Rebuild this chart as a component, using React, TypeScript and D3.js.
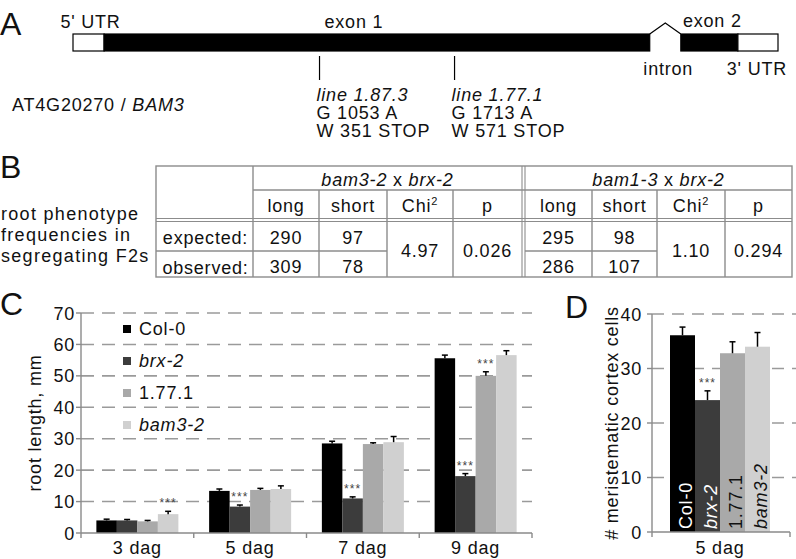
import React from "react";
import * as d3 from "d3";

// ---------- Panel A data ----------
const GENE_SEGMENT_NAMES = ["5' UTR", "exon 1", "intron", "exon 2", "3' UTR"];
const GENE_SEGMENT_KINDS = ["utr", "exon", "intron", "exon", "utr"];
const GENE_SEGMENT_STARTS = [-152, 0, 2667, 2819, 3098];
const GENE_SEGMENT_ENDS = [0, 2667, 2819, 3098, 3294];
const MUTATION_LINES = ["line 1.87.3", "line 1.77.1"];
const MUTATION_POSITIONS = [1053, 1713];
const MUTATION_NT = ["G 1053 A", "G 1713 A"];
const MUTATION_AA = ["W 351 STOP", "W 571 STOP"];
const GENE_ID = "AT4G20270";
const GENE_NAME = "BAM3";

// ---------- Panel B data ----------
const CROSS_MUTANTS = ["bam3-2", "bam1-3"];
const CROSS_PARTNER = "brx-2";
const TABLE_COLUMNS = ["long", "short", "Chi", "p"];
const TABLE_ROWS = ["expected:", "observed:"];
const ROW_TITLE = ["root phenotype", "frequencies in", "segregating F2s"];
const EXPECTED_LONG = [290, 295];
const EXPECTED_SHORT = [97, 98];
const OBSERVED_LONG = [309, 286];
const OBSERVED_SHORT = [78, 107];
const CHI2_VALUES = ["4.97", "1.10"];
const P_VALUES = ["0.026", "0.294"];

// ---------- Panel C data ----------
const DAYS = ["3 dag", "5 dag", "7 dag", "9 dag"];
const GENOTYPES = ["Col-0", "brx-2", "1.77.1", "bam3-2"];
const GENOTYPE_ITALIC = [false, true, false, true];
const GENOTYPE_COLORS = ["#000000", "#3c3c3c", "#a9a9a9", "#d0d0d0"];
const ROOT_COL0 = [4.0, 13.4, 28.5, 55.6];
const ROOT_BRX2 = [4.0, 8.4, 11.0, 18.1];
const ROOT_1771 = [3.7, 13.7, 28.3, 50.0];
const ROOT_BAM32 = [6.0, 14.0, 28.9, 56.6];
const ROOT_COL0_ERR = [0.4, 0.6, 0.7, 1.0];
const ROOT_BRX2_ERR = [0.3, 0.5, 0.5, 0.8];
const ROOT_1771_ERR = [0.3, 0.5, 0.4, 1.3];
const ROOT_BAM32_ERR = [0.9, 1.0, 1.8, 1.4];
const ROOT_SIG_DAY = ["3 dag", "5 dag", "7 dag", "9 dag", "9 dag"];
const ROOT_SIG_GENO = ["bam3-2", "brx-2", "brx-2", "brx-2", "1.77.1"];
const ROOT_TICKS = [0, 10, 20, 30, 40, 50, 60, 70];

// ---------- Panel D data ----------
const CORTEX_DAY = "5 dag";
const CORTEX_VALUES = [36.1, 24.2, 32.8, 34.0];
const CORTEX_ERR = [1.5, 1.7, 2.1, 2.6];
const CORTEX_SIG = ["brx-2"];
const CORTEX_TICKS = [0, 10, 20, 30, 40];

const FONT = "'Liberation Sans', Arial, Helvetica, sans-serif";
const LS = 0.8;
const GRID = "#9a9a9a";
const AXIS = "#8a8a8a";
const TLINE = "#8c8c8c";

const Txt = (p: any) => (
  <text fontFamily={FONT} fontSize={18} letterSpacing={LS} fill="#111" {...p} />
);

function PanelA() {
  const x = d3.scaleLinear().domain([-152, 3294]).range([73, 778]);
  const top = 34;
  const h = 17;
  const segs = GENE_SEGMENT_NAMES.map((n, i) => ({
    name: n,
    kind: GENE_SEGMENT_KINDS[i],
    s: GENE_SEGMENT_STARTS[i],
    e: GENE_SEGMENT_ENDS[i],
  }));
  return (
    <g>
      <Txt x={0} y={35} fontSize={32} letterSpacing={0}>A</Txt>
      {segs.map((sg, i) => {
        const x0 = x(sg.s);
        const x1 = x(sg.e);
        if (sg.kind === "intron") {
          const mid = (x0 + x1) / 2;
          return (
            <g key={i}>
              <polyline points={`${x0},${top} ${mid},${top - 11} ${x1},${top}`} fill="none" stroke="#000" strokeWidth={1.2} />
              <Txt x={mid + 3} y={75} textAnchor="middle">{sg.name}</Txt>
            </g>
          );
        }
        const isUtr = sg.kind === "utr";
        const isFirst = i === 0;
        const labelX = sg.name === "exon 1" ? (x0 + x1) / 2 - 23 : (x0 + x1) / 2 + (isFirst ? 2 : isUtr ? -1 : 3);
        const labelY = isUtr && !isFirst ? 75 : sg.name === "exon 2" ? 27 : 28;
        return (
          <g key={i}>
            <rect x={x0} y={top} width={x1 - x0} height={h}
              fill={isUtr ? "#fff" : "#000"} stroke="#000" strokeWidth={1.2} />
            <Txt x={labelX} y={labelY} textAnchor="middle">{sg.name}</Txt>
          </g>
        );
      })}
      {MUTATION_POSITIONS.map((pos, i) => {
        const mx = x(pos);
        return (
          <g key={i}>
            <line x1={mx} x2={mx} y1={56} y2={80} stroke="#000" strokeWidth={1.2} />
            <Txt x={mx - 3} y={101} fontStyle="italic">{MUTATION_LINES[i]}</Txt>
            <Txt x={mx - 3} y={119}>{MUTATION_NT[i]}</Txt>
            <Txt x={mx - 3} y={137}>{MUTATION_AA[i]}</Txt>
          </g>
        );
      })}
      <Txt x={12} y={111}>
        {GENE_ID} / <tspan fontStyle="italic">{GENE_NAME}</tspan>
      </Txt>
    </g>
  );
}

function PanelB() {
  const left = 156, right = 792, c1 = 253;
  const g1 = [253, 319, 387, 453, 522];
  const g2 = [525, 592, 657, 725, 792];
  const rows = [166, 190, 220, 251, 277];
  const groups = [g1, g2];
  const ln = (x1: number, y1: number, x2: number, y2: number, k: string, w = 1.4) => (
    <line key={k} x1={x1} y1={y1} x2={x2} y2={y2} stroke={TLINE} strokeWidth={w} />
  );
  return (
    <g>
      <Txt x={0} y={178} fontSize={32} letterSpacing={0}>B</Txt>
      {ROW_TITLE.map((t, i) => (
        <Txt key={i} x={1} y={220 + i * 21} letterSpacing={1.3}>{t}</Txt>
      ))}
      <rect x={left} y={rows[0]} width={right - left} height={rows[4] - rows[0]} fill="none" stroke={TLINE} strokeWidth={1.4} />
      {ln(c1, rows[0], c1, rows[4], "c1")}
      {ln(c1, rows[1], right, rows[1], "r1")}
      {ln(left, rows[2] - 1.5, right, rows[2] - 1.5, "r2a", 1.1)}
      {ln(left, rows[2] + 1.5, right, rows[2] + 1.5, "r2b", 1.1)}
      {ln(left, rows[3], g1[2], rows[3], "r3a")}
      {ln(g2[0], rows[3], g2[2], rows[3], "r3b")}
      {ln(g1[4], rows[0], g1[4], rows[4], "dv1", 1.1)}
      {ln(g2[0], rows[0], g2[0], rows[4], "dv2", 1.1)}
      {[g1, g2].map((g, gi) => [1, 2, 3].map((k) => ln(g[k], rows[1], g[k], rows[4], `v${gi}${k}`)))}
      {TABLE_ROWS.map((r, i) => (
        <Txt key={r} x={(left + c1) / 2 + 1} y={i === 0 ? 244 : 274} textAnchor="middle">{r}</Txt>
      ))}
      {groups.map((g, gi) => {
        const cx = (a: number) => (g[a] + g[a + 1]) / 2;
        return (
          <g key={gi}>
            <Txt x={(g[0] + g[4]) / 2} y={186} textAnchor="middle">
              <tspan fontStyle="italic">{CROSS_MUTANTS[gi]}</tspan> x <tspan fontStyle="italic">{CROSS_PARTNER}</tspan>
            </Txt>
            {TABLE_COLUMNS.map((c, ci) => (
              <Txt key={c} x={cx(ci)} y={212} textAnchor="middle">
                {c}
                {c === "Chi" ? <tspan fontSize={11} dy={-7}>2</tspan> : null}
              </Txt>
            ))}
            <Txt x={cx(0)} y={244} textAnchor="middle">{EXPECTED_LONG[gi]}</Txt>
            <Txt x={cx(1)} y={244} textAnchor="middle">{EXPECTED_SHORT[gi]}</Txt>
            <Txt x={cx(0)} y={273} textAnchor="middle">{OBSERVED_LONG[gi]}</Txt>
            <Txt x={cx(1)} y={273} textAnchor="middle">{OBSERVED_SHORT[gi]}</Txt>
            <Txt x={cx(2)} y={257} textAnchor="middle">{CHI2_VALUES[gi]}</Txt>
            <Txt x={cx(3)} y={257} textAnchor="middle">{P_VALUES[gi]}</Txt>
          </g>
        );
      })}
    </g>
  );
}

function ErrorBar({ x, yTop, yErr }: any) {
  return (
    <g stroke="#000" strokeWidth={1.5}>
      <line x1={x} x2={x} y1={yTop} y2={yErr} />
      <line x1={x - 3} x2={x + 3} y1={yErr} y2={yErr} />
    </g>
  );
}

function Stars({ x, y }: any) {
  return (
    <text x={x} y={y} textAnchor="middle" fontFamily={FONT} fontSize={12} letterSpacing={1} fill="#444">***</text>
  );
}

function PanelC() {
  const left = 81, right = 532, y0 = 533, yTop = 313;
  const y = d3.scaleLinear().domain([0, 70]).range([y0, yTop]);
  const xb = d3.scaleBand().domain(DAYS).range([left, right]);
  const bw = xb.bandwidth();
  const xi = d3.scaleBand().domain(GENOTYPES).range([(bw - 82) / 2, (bw + 82) / 2]);
  const series = [ROOT_COL0, ROOT_BRX2, ROOT_1771, ROOT_BAM32];
  const errs = [ROOT_COL0_ERR, ROOT_BRX2_ERR, ROOT_1771_ERR, ROOT_BAM32_ERR];
  return (
    <g>
      <Txt x={0} y={315} fontSize={32} letterSpacing={0}>C</Txt>
      {ROOT_TICKS.filter((t) => t > 0).map((t) => (
        <line key={t} x1={left} x2={right} y1={y(t)} y2={y(t)} stroke={GRID} strokeWidth={1.6} strokeDasharray="13,8" />
      ))}
      {ROOT_TICKS.map((t) => (
        <g key={t}>
          <line x1={left - 5} x2={left} y1={y(t)} y2={y(t)} stroke={AXIS} strokeWidth={1.4} />
          <Txt x={75} y={y(t) + 6.5} textAnchor="end">{t}</Txt>
        </g>
      ))}
      <line x1={left} x2={left} y1={yTop} y2={y0} stroke={AXIS} strokeWidth={1.4} />
      {DAYS.map((d, di) => (
        <g key={d}>
          {GENOTYPES.map((g, gi) => {
            const bx = (xb(d) as number) + (xi(g) as number);
            const v = series[gi][di];
            const e = errs[gi][di];
            return (
              <g key={g}>
                <rect x={bx} y={y(v)} width={xi.bandwidth()} height={y0 - y(v)} fill={GENOTYPE_COLORS[gi]} />
                <ErrorBar x={bx + xi.bandwidth() / 2} yTop={y(v)} yErr={y(v + e)} />
              </g>
            );
          })}
          <Txt x={(xb(d) as number) + bw / 2} y={554} textAnchor="middle">{d}</Txt>
        </g>
      ))}
      {ROOT_SIG_DAY.map((d, i) => {
        const gi = GENOTYPES.indexOf(ROOT_SIG_GENO[i]);
        const bx = (xb(d) as number) + (xi(ROOT_SIG_GENO[i]) as number) + xi.bandwidth() / 2;
        const top = y(series[gi][DAYS.indexOf(d)] + errs[gi][DAYS.indexOf(d)]);
        return <Stars key={i} x={bx} y={top - 4} />;
      })}
      <line x1={left} x2={right} y1={y0} y2={y0} stroke={AXIS} strokeWidth={1.4} />
      {[left, ...DAYS.map((d) => (xb(d) as number) + bw)].map((tx, i) => (
        <line key={i} x1={tx} x2={tx} y1={y0} y2={y0 + 5} stroke={AXIS} strokeWidth={1.4} />
      ))}
      {GENOTYPES.map((g, i) => (
        <g key={g}>
          <rect x={123} y={325 + i * 32} width={8} height={8} fill={GENOTYPE_COLORS[i]} />
          <Txt x={139} y={335 + i * 32} fontStyle={GENOTYPE_ITALIC[i] ? "italic" : "normal"}>{g}</Txt>
        </g>
      ))}
      <Txt transform={`translate(41,${(y0 + yTop) / 2}) rotate(-90)`} textAnchor="middle">root length, mm</Txt>
    </g>
  );
}

function PanelD() {
  const left = 652, right = 790, y0 = 532, yTop = 314;
  const y = d3.scaleLinear().domain([0, 40]).range([y0, yTop]);
  const xi = d3.scaleBand().domain(GENOTYPES).range([670, 770]);
  return (
    <g>
      <Txt x={565} y={318} fontSize={32} letterSpacing={0}>D</Txt>
      {CORTEX_TICKS.filter((t) => t > 0).map((t) => (
        <line key={t} x1={left} x2={796} y1={y(t)} y2={y(t)} stroke={GRID} strokeWidth={1.6} strokeDasharray="12,8" />
      ))}
      {CORTEX_TICKS.map((t) => (
        <g key={t}>
          <line x1={left - 5} x2={left} y1={y(t)} y2={y(t)} stroke={AXIS} strokeWidth={1.4} />
          <Txt x={642} y={y(t) + 6.5} textAnchor="end">{t}</Txt>
        </g>
      ))}
      <line x1={left} x2={left} y1={yTop} y2={y0 + 5} stroke={AXIS} strokeWidth={1.4} />
      {GENOTYPES.map((g, gi) => {
        const bx = xi(g) as number;
        const v = CORTEX_VALUES[gi];
        const bwid = xi.bandwidth();
        return (
          <g key={g}>
            <rect x={bx} y={y(v)} width={bwid} height={y0 - y(v)} fill={GENOTYPE_COLORS[gi]} />
            <ErrorBar x={bx + bwid / 2} yTop={y(v)} yErr={y(v + CORTEX_ERR[gi])} />
            <Txt transform={`translate(${bx + bwid - 3},529) rotate(-90)`}
              fill={gi < 2 ? "#fff" : "#111"} fontStyle={GENOTYPE_ITALIC[gi] ? "italic" : "normal"}>{g}</Txt>
          </g>
        );
      })}
      {CORTEX_SIG.map((g) => {
        const gi = GENOTYPES.indexOf(g);
        const bx = (xi(g) as number) + xi.bandwidth() / 2;
        return <Stars key={g} x={bx} y={y(CORTEX_VALUES[gi] + CORTEX_ERR[gi]) - 4} />;
      })}
      <line x1={left} x2={right} y1={y0} y2={y0} stroke={AXIS} strokeWidth={1.4} />
      <line x1={right} x2={right} y1={y0} y2={y0 + 5} stroke={AXIS} strokeWidth={1.4} />
      <Txt x={720} y={554} textAnchor="middle">{CORTEX_DAY}</Txt>
      <Txt transform={`translate(618,${(y0 + yTop) / 2}) rotate(-90)`} textAnchor="middle"># meristematic cortex cells</Txt>
    </g>
  );
}

export default function App() {
  return (
    <svg width={796} height={559} viewBox="0 0 796 559"
      style={{ position: "absolute", left: 0, top: 0, background: "#fff" }}>
      <rect x={0} y={0} width={796} height={559} fill="#fff" />
      <PanelA />
      <PanelB />
      <PanelC />
      <PanelD />
    </svg>
  );
}
